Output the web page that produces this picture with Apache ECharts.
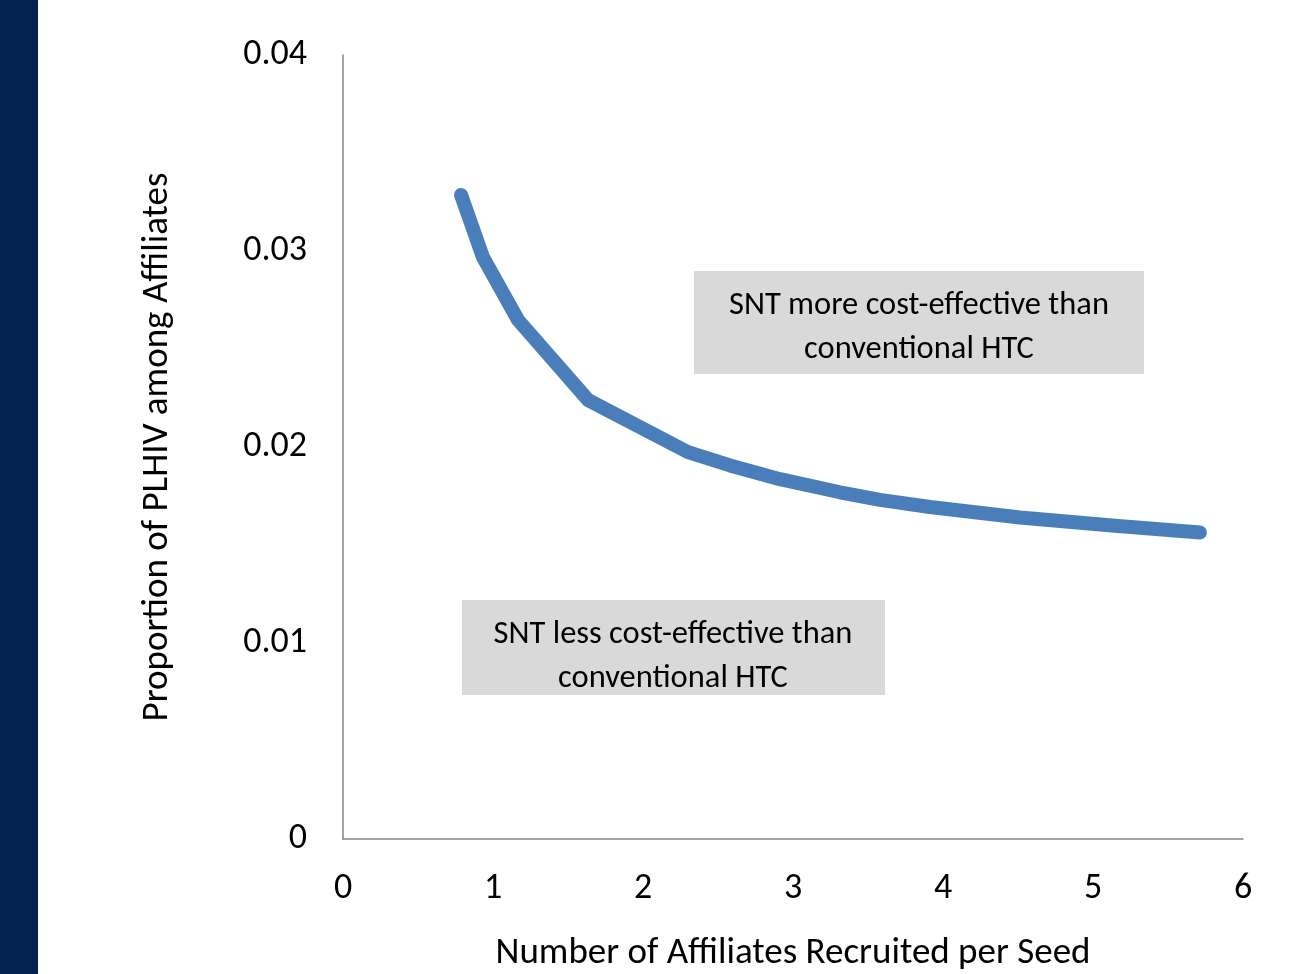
<!DOCTYPE html>
<html>
<head>
<meta charset="utf-8">
<script src="https://cdn.jsdelivr.net/npm/echarts@6/dist/echarts.min.js"></script>
<style>
html,body{margin:0;padding:0;background:#fff;}
#side{position:absolute;left:0;top:0;width:38px;height:974px;background:#022350;}
#chart{position:absolute;left:0;top:0;width:1308px;height:974px;}
</style>
</head>
<body>
<div id="side"></div>
<div id="chart"></div>
<script>
var affiliatesPerSeed = [0.787, 0.933, 1.167, 1.633, 2.30, 2.58, 2.913, 3.313, 3.58, 3.913, 4.513, 5.147, 5.713];
var proportionPLHIV = [0.03286, 0.02969, 0.02648, 0.0224, 0.01974, 0.01906, 0.01836, 0.01769, 0.0173, 0.01694, 0.0164, 0.01598, 0.01564];
var xTicks = [0, 1, 2, 3, 4, 5, 6];
var yTicks = [0, 0.01, 0.02, 0.03, 0.04];
var xTitle = 'Number of Affiliates Recruited per Seed';
var yTitle = 'Proportion of PLHIV among Affiliates';
var boxUpper = ['SNT more cost-effective than', 'conventional HTC'];
var boxLower = ['SNT less cost-effective than', 'conventional HTC'];

var FONT = 'Carlito, Lato, "Open Sans", sans-serif';
var chart = echarts.init(document.getElementById('chart'), null, {renderer: 'canvas'});
var pts = affiliatesPerSeed.map(function (x, i) { return [x, proportionPLHIV[i]]; });

chart.setOption({
  animation: false,
  backgroundColor: 'transparent',
  grid: {left: 343, right: 65, top: 55, bottom: 135, containLabel: false, outerBoundsMode: 'none'},
  xAxis: {
    type: 'value', min: 0, max: 6, interval: 1,
    axisLine: {show: true, lineStyle: {color: '#868686', width: 1.5}},
    axisTick: {show: false},
    splitLine: {show: false},
    axisLabel: {color: '#000', fontSize: 36, fontFamily: FONT, margin: 32,
      formatter: function (v) { return xTicks.indexOf(v) >= 0 ? String(v) : ''; }},
    name: xTitle, nameLocation: 'middle', nameGap: 96,
    nameTextStyle: {color: '#000', fontSize: 37, fontFamily: FONT}
  },
  yAxis: {
    type: 'value', min: 0, max: 0.04, interval: 0.01,
    axisLine: {show: true, lineStyle: {color: '#868686', width: 1.5}},
    axisTick: {show: false},
    splitLine: {show: false},
    axisLabel: {color: '#000', fontSize: 36, fontFamily: FONT, margin: 36,
      formatter: function (v) {
        for (var i = 0; i < yTicks.length; i++) if (Math.abs(yTicks[i] - v) < 1e-9) return String(yTicks[i]);
        return '';
      }},
    name: yTitle, nameLocation: 'middle', nameGap: 167, nameRotate: 90,
    nameTextStyle: {color: '#000', fontSize: 37, fontFamily: FONT}
  },
  series: [{
    type: 'line', data: pts, showSymbol: false, smooth: false,
    lineStyle: {color: '#4a7ebb', width: 14, cap: 'round', join: 'round'}
  }],
  graphic: [
    {type: 'rect', left: 694, top: 271, shape: {width: 450, height: 103}, style: {fill: '#d9d9d9'}, z: 10},
    {type: 'text', x: 919, y: 328, style: {text: boxUpper.join('\n'), fill: '#000', font: '32.5px ' + FONT, align: 'center', verticalAlign: 'middle', lineHeight: 44}, z: 11},
    {type: 'rect', left: 462, top: 600, shape: {width: 423, height: 95}, style: {fill: '#d9d9d9'}, z: 10},
    {type: 'text', x: 673, y: 657, style: {text: boxLower.join('\n'), fill: '#000', font: '32.5px ' + FONT, align: 'center', verticalAlign: 'middle', lineHeight: 44}, z: 11}
  ]
});
</script>
</body>
</html>
